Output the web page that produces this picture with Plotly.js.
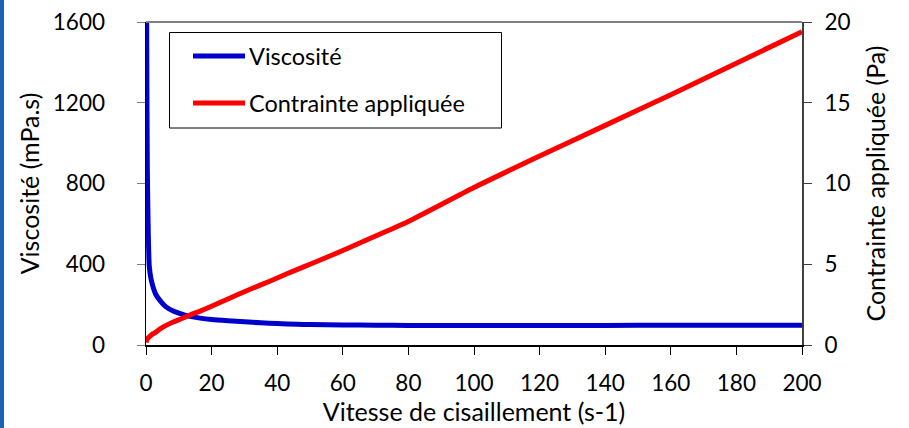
<!DOCTYPE html>
<html><head><meta charset="utf-8">
<script src="https://cdn.plot.ly/plotly-3.0.1.min.js"></script>
<style>html,body{margin:0;padding:0;background:#fff;}#chart{width:909px;height:428px;}</style>
</head><body><div id="chart"></div>
<script>
const shearRate = [0.05, 0.2, 0.4, 0.7, 1, 1.5, 2.2, 3, 4.3, 6, 8.3, 10, 13.4, 16.5, 20, 25, 30, 35, 40, 46, 50, 60, 70, 80, 100, 120, 140, 160, 180, 200];
const viscosity = [3000, 1600, 880, 550, 390, 330, 285, 250, 220, 190, 168, 158, 142, 133, 126, 120, 115, 110, 106, 103, 101, 99, 98, 97, 97, 97, 97, 98, 98, 98];
const stress = [0.15, 0.3, 0.38, 0.45, 0.5, 0.6, 0.7, 0.8, 1.0, 1.2, 1.42, 1.56, 1.86, 2.1, 2.4, 2.85, 3.3, 3.72, 4.15, 4.67, 5.0, 5.85, 6.75, 7.65, 9.75, 11.7, 13.6, 15.5, 17.45, 19.4];
const seriesNames = ['Viscosité', 'Contrainte appliquée'];
const seriesColors = ['#0000CC', '#FF0000'];
const xTicks = [0, 20, 40, 60, 80, 100, 120, 140, 160, 180, 200];
const yTicks = [0, 400, 800, 1200, 1600];
const y2Ticks = [0, 5, 10, 15, 20];
const xTitle = 'Vitesse de cisaillement (s-1)';
const yTitle = 'Viscosité (mPa.s)';
const y2Title = 'Contrainte appliquée (Pa)';

const W = 909, H = 428, L = 146, R = 107, T = 22, B = 83;
const pw = W - L - R, ph = H - T - B;
const px = v => (v - L) / pw;          // pixel x -> paper x
const py = v => 1 - (v - T) / ph;      // pixel y -> paper y

const fam = 'Lato, "Open Sans", sans-serif';
const tickFont = {family: fam, size: 22.5, color: '#000'};
const textFont = {family: fam, size: 25, color: '#000'};
const legendFont = {family: fam, size: 23.5, color: '#000'};

const traces = [
  {x: shearRate, y: viscosity, name: seriesNames[0], type: 'scatter', mode: 'lines',
   line: {color: seriesColors[0], width: 5, shape: 'spline', smoothing: 0.6}, yaxis: 'y'},
  {x: shearRate, y: stress, name: seriesNames[1], type: 'scatter', mode: 'lines',
   line: {color: seriesColors[1], width: 5, shape: 'spline', smoothing: 0.6}, yaxis: 'y2'}
];

const legY = [56, 103];
const shapes = [
  {type: 'line', xref: 'paper', yref: 'paper', x0: 0, x1: 1, y0: 1, y1: 1, line: {color: '#808080', width: 2}},
  {type: 'rect', xref: 'paper', yref: 'paper', x0: px(0), x1: px(4), y0: py(H), y1: py(0), fillcolor: '#1F5FAF', line: {width: 0}, layer: 'above'},
  {type: 'rect', xref: 'paper', yref: 'paper', x0: px(169.5), x1: px(501.5), y0: py(128), y1: py(32.5), fillcolor: '#fff', line: {color: '#000', width: 1}, layer: 'above'}
];
const annotations = [];
seriesNames.forEach((n, i) => {
  shapes.push({type: 'line', xref: 'paper', yref: 'paper', x0: px(193), x1: px(245), y0: py(legY[i]), y1: py(legY[i]),
    line: {color: seriesColors[i], width: 5}, layer: 'above'});
  annotations.push({xref: 'paper', yref: 'paper', x: px(247), y: py(legY[i]), text: n, showarrow: false,
    xanchor: 'left', yanchor: 'middle', font: legendFont});
});

const layout = {
  width: W, height: H,
  margin: {l: L, r: R, t: T, b: B, pad: 0},
  paper_bgcolor: '#fff', plot_bgcolor: '#fff',
  font: tickFont,
  showlegend: false,
  xaxis: {range: [0, 200], tickvals: xTicks, ticktext: xTicks.map(String), showgrid: false, zeroline: false,
    showline: true, linecolor: '#000', linewidth: 1.5, ticks: 'outside', ticklen: 8, tickwidth: 1, tickcolor: '#000',
    ticklabelstandoff: 9, tickfont: tickFont, title: {text: xTitle, font: textFont, standoff: 8}, fixedrange: true},
  xaxis3: {range: [0, 200], overlaying: 'x', anchor: 'y', tickvals: xTicks, showticklabels: false, showgrid: false, zeroline: false,
    showline: false, ticks: 'inside', ticklen: 8, tickwidth: 1, tickcolor: '#000', fixedrange: true},
  yaxis: {range: [0, 1600], tickvals: yTicks, ticktext: yTicks.map(String), showgrid: false, zeroline: false,
    showline: true, linecolor: '#000', linewidth: 1.5, ticks: 'outside', ticklen: 8, tickwidth: 1, tickcolor: '#808080',
    ticklabelstandoff: 27, tickfont: tickFont, title: {text: yTitle, font: textFont, standoff: 6}, fixedrange: true},
  yaxis2: {range: [0, 20], overlaying: 'y', side: 'right', anchor: 'x', tickvals: y2Ticks, ticktext: y2Ticks.map(String),
    showgrid: false, zeroline: false, showline: true, linecolor: '#404040', linewidth: 2, ticks: 'outside', ticklen: 8,
    tickwidth: 1, tickcolor: '#404040', ticklabelstandoff: 8, tickfont: tickFont, title: {text: y2Title, font: textFont, standoff: 18}, fixedrange: true},
  yaxis4: {range: [0, 20], overlaying: 'y', side: 'right', anchor: 'x', tickvals: y2Ticks, showticklabels: false,
    showgrid: false, zeroline: false, showline: false, ticks: 'inside', ticklen: 8, tickwidth: 1, tickcolor: '#404040', fixedrange: true},
  shapes: shapes,
  annotations: annotations
};
Plotly.newPlot('chart', traces, layout, {displayModeBar: false, staticPlot: true});
</script></body></html>
